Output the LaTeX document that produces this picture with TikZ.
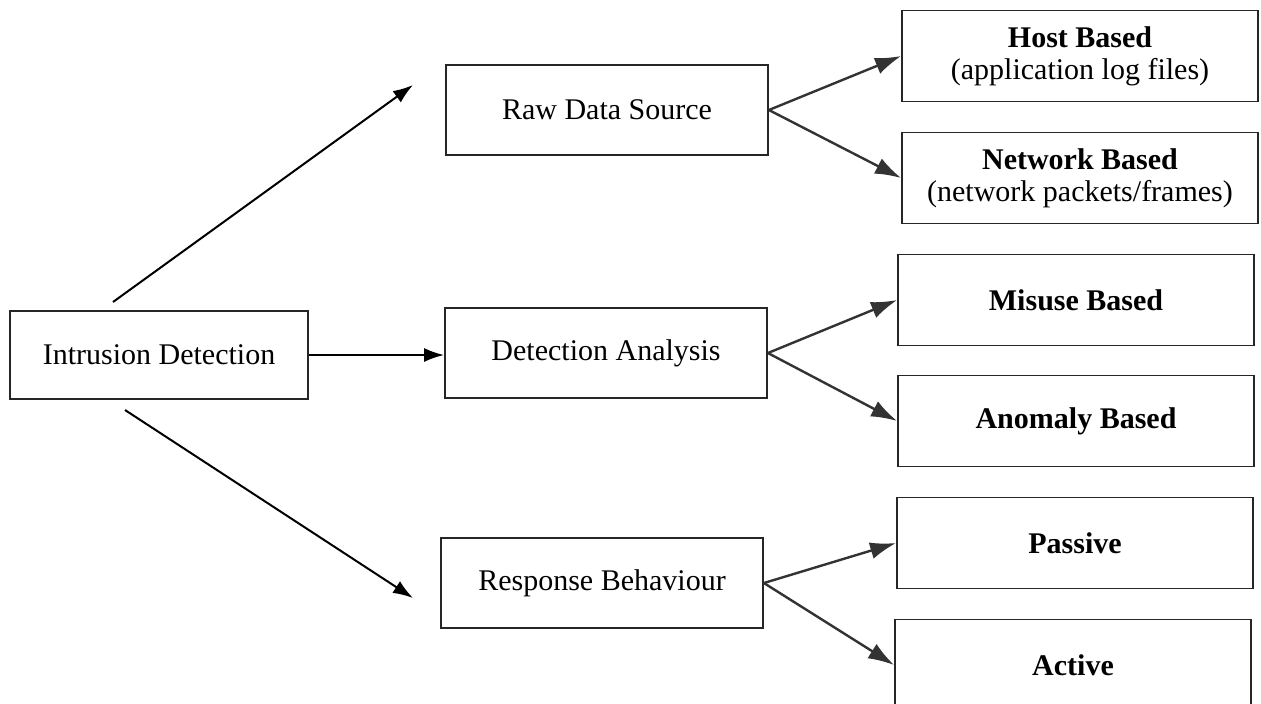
\documentclass[tikz,border=0pt]{standalone}
\usepackage{fontspec}
\setmainfont{Liberation Serif}
\usepackage{tikz}
\usetikzlibrary{arrows.meta}

\begin{document}
\begin{tikzpicture}[x=0.5pt, y=-0.5pt,
    box/.style={draw=black!85, line width=0.9pt, align=center,
      font=\fontsize{15}{16}\selectfont, inner sep=0pt},
    midbox/.style={box, minimum width=161pt, minimum height=45pt},
    leafbox/.style={box, minimum width=178pt, minimum height=45.5pt},
    mainarrow/.style={-{Latex[length=10pt, width=7pt]}, line width=1pt, black},
    subarrow/.style={-{Latex[length=13pt, width=8.5pt]}, line width=1.2pt, black!80}]
  \useasboundingbox (0,0) rectangle (1261,703);
  % Root
  \node[box, minimum width=149pt, minimum height=44pt] (id) at (159,355) {Intrusion Detection};
  % Second level
  \node[midbox] (raw) at (607,110) {Raw Data Source};
  \node[midbox] (det) at (606,353) {Detection Analysis};
  \node[midbox] (resp) at (602,583) {Response Behaviour};
  % Leaves
  \node[leafbox] (host) at (1080,56) {\textbf{Host Based}\\(application log files)};
  \node[leafbox] (net) at (1080,178) {\textbf{Network Based}\\(network packets/frames)};
  \node[leafbox] (mis) at (1076,300) {\textbf{Misuse Based}};
  \node[leafbox] (ano) at (1076,421) {\textbf{Anomaly Based}};
  \node[leafbox] (pas) at (1075,543) {\textbf{Passive}};
  \node[leafbox] (act) at (1073,665) {\textbf{Active}};
  % Free ends of the long arrows
  \coordinate (up0) at (113,302);
  \coordinate (up1) at (413,85);
  \coordinate (dn0) at (125,410);
  \coordinate (dn1) at (413,598);
  % Arrows from the root
  \draw[mainarrow] (up0) -- (up1);
  \draw[mainarrow] (id.east) -- (id.east -| det.west);
  \draw[mainarrow] (dn0) -- (dn1);
  % Arrows to the leaves
  \draw[subarrow] (raw.east) -- (host.west);
  \draw[subarrow] (raw.east) -- (net.west);
  \draw[subarrow] (det.east) -- (mis.west);
  \draw[subarrow] (det.east) -- (ano.west);
  \draw[subarrow] (resp.east) -- (pas.west);
  \draw[subarrow] (resp.east) -- (act.west);
\end{tikzpicture}
\end{document}
